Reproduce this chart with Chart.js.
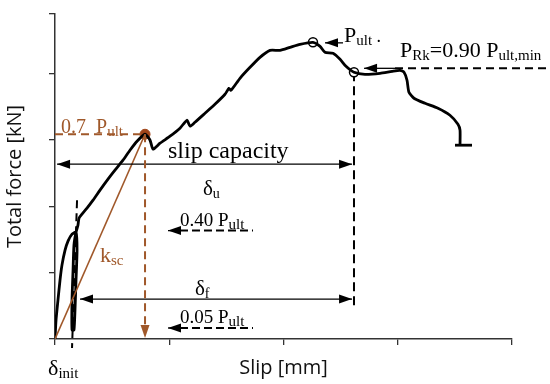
<!DOCTYPE html>
<html>
<head>
<meta charset="utf-8">
<script src="https://cdn.jsdelivr.net/npm/chart.js@4.4.1/dist/chart.umd.min.js"></script>
<style>
  html,body{margin:0;padding:0;background:#fff;}
  #wrap{width:550px;height:384px;}
</style>
</head>
<body>
<div id="wrap"><canvas id="slipChart"></canvas></div>
<script>
// load-slip curve (slip in axis units, force in axis units)
const slip  = [0, 0.009, 0.026, 0.044, 0.061, 0.088, 0.114, 0.149, 0.184, 0.193, 0.184, 0.175, 0.166, 0.149, 0.149, 0.158, 0.166, 0.184, 0.201, 0.210,
               0.236, 0.280, 0.333, 0.394, 0.464, 0.525, 0.595, 0.656, 0.718, 0.788, 0.832, 0.858, 0.919, 1.007, 1.094, 1.155, 1.182, 1.225, 1.313, 1.400,
               1.488, 1.523, 1.540, 1.619, 1.707, 1.794, 1.882, 1.969, 2.057, 2.144, 2.258, 2.320, 2.363, 2.433, 2.495, 2.547, 2.617, 2.713, 2.845, 2.950,
               3.020, 3.055, 3.081, 3.098, 3.142, 3.239, 3.352, 3.457, 3.527, 3.545, 3.545];
const force = [0, 0.286, 0.587, 0.889, 1.114, 1.340, 1.476, 1.581, 1.611, 1.340, 0.889, 0.437, 0.136, 0.136, 0.587, 1.039, 1.416, 1.611, 1.717, 1.822,
               1.883, 1.973, 2.093, 2.244, 2.410, 2.545, 2.696, 2.846, 2.982, 3.087, 2.997, 2.861, 2.952, 3.057, 3.178, 3.298, 3.208, 3.268, 3.404, 3.539,
               3.690, 3.780, 3.750, 3.931, 4.096, 4.247, 4.352, 4.352, 4.398, 4.443, 4.473, 4.413, 4.322, 4.307, 4.217, 4.111, 4.021, 3.991, 4.006, 4.036,
               4.051, 4.021, 3.901, 3.720, 3.630, 3.554, 3.479, 3.373, 3.238, 3.148, 2.922];
// small foot at the end of the test
const footSlip  = [3.501, 3.650];
const footForce = [2.922, 2.922];

// marked points
const ultPoint = [2.258, 4.473];   // P_ult
const rkPoint  = [2.617, 4.021];   // P_Rk
const p07Point = [0.788, 3.087];   // 0.7 P_ult
const initSlip = [0.193, 0.149];   // delta_init dashed line, top / bottom
const level040 = 1.634;
const level005 = 0.166;

// axes
const xTicks = [0, 1, 2, 3, 4];
const yTicks = [0, 1, 2, 3, 4, 4.9];

const BROWN = '#a0582a';
const SERIF = '"Liberation Serif", serif';

function line(ctx, x1, y1, x2, y2, color, width, dash) {
  ctx.save();
  ctx.strokeStyle = color;
  ctx.lineWidth = width;
  ctx.setLineDash(dash || []);
  ctx.beginPath();
  ctx.moveTo(x1, y1);
  ctx.lineTo(x2, y2);
  ctx.stroke();
  ctx.restore();
}
// arrow head with the tip at x,y
function head(ctx, x, y, angle, color) {
  ctx.save();
  ctx.translate(x, y);
  ctx.rotate(angle);
  ctx.fillStyle = color;
  ctx.beginPath();
  ctx.moveTo(0, 0);
  ctx.lineTo(-13, -4.5);
  ctx.lineTo(-13, 4.5);
  ctx.closePath();
  ctx.fill();
  ctx.restore();
}
// text with subscripts: parts = [text, size, dy]
function rich(ctx, x, y, parts, color) {
  ctx.save();
  ctx.fillStyle = color;
  ctx.textBaseline = 'alphabetic';
  parts.forEach(p => {
    ctx.font = p[1] + 'px ' + SERIF;
    ctx.fillText(p[0], x, y + (p[2] || 0));
    x += ctx.measureText(p[0]).width;
  });
  ctx.restore();
}

const annotations = {
  id: 'annotations',
  beforeDatasetsDraw(chart) {
    const ctx = chart.ctx;
    const X = v => chart.scales.x.getPixelForValue(v);
    const Y = v => chart.scales.y.getPixelForValue(v);
    // delta_init dashed line
    line(ctx, X(initSlip[0]), Y(2.093), X(initSlip[1]), Y(-0.136), '#000', 2, [8, 5]);
    // P_Rk dashed level
    line(ctx, X(2.976), Y(4.081), X(4.306), Y(4.081), '#000', 2, [8, 5]);
    // vertical dashed line at P_Rk
    line(ctx, X(rkPoint[0]), Y(rkPoint[1]), X(rkPoint[0]), Y(0.437), '#000', 2, [9, 5]);
  },
  afterDatasetsDraw(chart) {
    const ctx = chart.ctx;
    const X = v => chart.scales.x.getPixelForValue(v);
    const Y = v => chart.scales.y.getPixelForValue(v);

    // slip capacity / delta_u
    line(ctx, X(0.018), Y(2.636), X(2.60), Y(2.636), '#000', 1.3);
    head(ctx, X(0.018), Y(2.636), Math.PI, '#000');
    head(ctx, X(2.60), Y(2.636), 0, '#000');
    rich(ctx, X(0.989), Y(2.726), [['slip capacity', 24]], '#000');
    rich(ctx, X(1.295), Y(2.169), [['δ', 21], ['u', 14, 3]], '#000');

    // delta_f
    line(ctx, X(0.219), Y(0.602), X(2.60), Y(0.602), '#000', 1.3);
    head(ctx, X(0.219), Y(0.602), Math.PI, '#000');
    head(ctx, X(2.60), Y(0.602), 0, '#000');
    rich(ctx, X(1.225), Y(0.663), [['δ', 21], ['f', 14, 3]], '#000');

    // 0.40 and 0.05 P_ult
    [[level040, 1.702, '0.40 '], [level005, 0.241, '0.05 ']].forEach(l => {
      line(ctx, X(1.094), Y(l[0]), X(1.733), Y(l[0]), '#000', 2, [8, 4]);
      line(ctx, X(0.989), Y(l[0]), X(1.094), Y(l[0]), '#000', 1.3);
      head(ctx, X(0.989), Y(l[0]), Math.PI, '#000');
      rich(ctx, X(1.094), Y(l[1]), [[l[2] + 'P', 19], ['ult', 15, 3]], '#000');
    });

    // P_ult
    line(ctx, X(2.363), Y(4.465), X(2.521), Y(4.465), '#000', 1.3);
    head(ctx, X(2.363), Y(4.465), Math.PI, '#000');
    rich(ctx, X(2.530), Y(4.473), [['P', 22], ['ult', 15, 3], [' .', 18]], '#000');

    // P_Rk
    line(ctx, X(2.705), Y(4.081), X(2.976), Y(4.081), '#000', 1.3);
    head(ctx, X(2.705), Y(4.081), Math.PI, '#000');
    rich(ctx, X(3.020), Y(4.247), [['P', 22], ['Rk', 15, 3], ['=0.90 P', 22], ['ult,min', 15, 3]], '#000');

    // 0.7 P_ult, brown
    line(ctx, X(0), Y(p07Point[1]), X(p07Point[0]), Y(p07Point[1]), BROWN, 2, [8, 5]);
    line(ctx, X(p07Point[0]), Y(p07Point[1]), X(p07Point[0]), Y(0.211), BROWN, 2, [8, 5]);
    head(ctx, X(p07Point[0]), Y(0.015), Math.PI / 2, BROWN);
    rich(ctx, X(0.053), Y(3.102), [['0.7  P', 20], ['ult', 15, 3]], BROWN);
    rich(ctx, X(0.394), Y(1.160), [['k', 22], ['sc', 15, 3]], BROWN);

    // delta_init
    rich(ctx, X(-0.061), Y(-0.542), [['δ', 22], ['init', 15, 3]], '#000');
  }
};

const pts = (xs, ys) => xs.map((v, i) => ({ x: v, y: ys[i] }));

new Chart(document.getElementById('slipChart'), {
  type: 'scatter',
  data: {
    datasets: [
      {
        label: 'k_sc',
        data: pts([0, p07Point[0]], [0, p07Point[1]]),
        showLine: true,
        borderColor: BROWN,
        borderWidth: 1.6,
        pointRadius: 0
      },
      {
        label: 'curve',
        data: pts(slip, force),
        showLine: true,
        borderColor: '#000',
        borderWidth: 2.8,
        borderJoinStyle: 'round',
        pointRadius: 0,
        tension: 0.2
      },
      {
        label: 'foot',
        data: pts(footSlip, footForce),
        showLine: true,
        borderColor: '#000',
        borderWidth: 2.8,
        pointRadius: 0
      },
      {
        label: 'marks',
        data: pts([ultPoint[0], rkPoint[0]], [ultPoint[1], rkPoint[1]]),
        pointRadius: 4.5,
        pointBackgroundColor: '#fff',
        pointBorderColor: '#000',
        pointBorderWidth: 1.5
      },
      {
        label: '0.7',
        data: pts([p07Point[0]], [p07Point[1]]),
        pointRadius: 5,
        pointBackgroundColor: '#a0451a',
        pointBorderColor: '#a0451a'
      }
    ]
  },
  options: {
    responsive: true,
    maintainAspectRatio: false,
    animation: false,
    layout: { padding: { left: 3, top: 14, right: 38, bottom: 4 } },
    plugins: {
      legend: { display: false },
      tooltip: { enabled: false }
    },
    scales: {
      x: {
        type: 'linear',
        min: 0,
        max: 4,
        afterBuildTicks: s => { s.ticks = xTicks.map(v => ({ value: v })); },
        afterFit: s => { s.height = 41; },
        ticks: { display: false },
        grid: { drawOnChartArea: false, drawTicks: true, tickLength: 6, color: '#333', lineWidth: 1.3 },
        border: { color: '#333', width: 1.5 },
        title: { display: true, text: 'Slip [mm]', color: '#111', padding: 0,
                 font: { family: '"Open Sans"', size: 20 } }
      },
      y: {
        type: 'linear',
        min: 0,
        max: 4.9,
        afterBuildTicks: s => { s.ticks = yTicks.map(v => ({ value: v })); },
        afterFit: s => { s.width = 52; },
        ticks: { display: false },
        grid: { drawOnChartArea: false, drawTicks: true, tickLength: 6, color: '#333', lineWidth: 1.3 },
        border: { color: '#333', width: 1.5 },
        title: { display: true, text: 'Total force [kN]', color: '#111', padding: 0,
                 font: { family: '"Open Sans"', size: 20 } }
      }
    }
  },
  plugins: [annotations]
});
</script>
</body>
</html>
